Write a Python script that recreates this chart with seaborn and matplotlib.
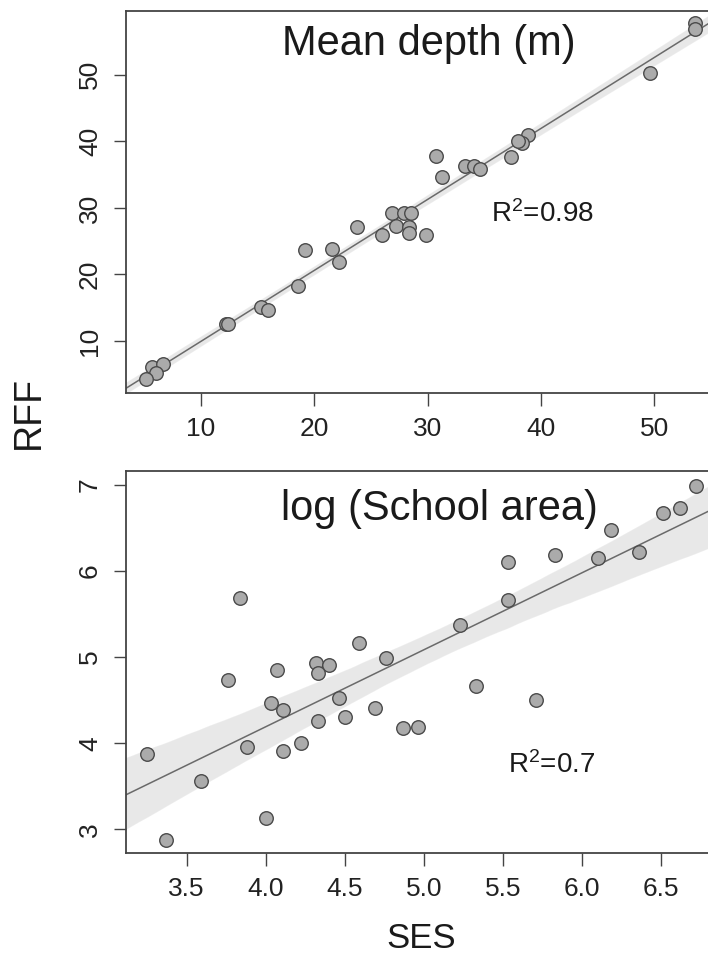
import matplotlib
matplotlib.use("Agg")
import matplotlib.pyplot as plt
import numpy as np
import pandas as pd
import seaborn as sns

# ---- data: Mean depth panel ----
depth_ses = [53.6, 53.6, 49.6, 38.9, 38.3, 38.0, 37.4, 30.75, 31.3, 33.3, 34.1, 34.6,
             26.9, 27.9, 28.5, 27.2, 28.4, 28.4, 26.0, 29.9, 23.8, 19.2, 21.6, 22.2,
             18.6, 15.3, 15.9, 12.2, 12.4, 5.67, 6.67, 6.0, 5.17]
depth_rff = [57.8, 56.9, 50.3, 41.0, 39.8, 40.0, 37.7, 37.8, 34.7, 36.3, 36.3, 35.8,
             29.2, 29.3, 29.2, 27.3, 27.2, 26.2, 26.0, 25.9, 27.1, 23.6, 23.9, 21.8,
             18.3, 15.1, 14.6, 12.5, 12.5, 6.1, 6.5, 5.2, 4.25]

# ---- data: log (School area) panel ----
area_ses = [6.72, 6.51, 6.62, 6.18, 5.83, 6.10, 6.36, 5.53, 5.53, 5.23, 3.84, 4.59,
            4.76, 4.32, 4.40, 4.33, 4.07, 3.76, 5.33, 5.71, 4.46, 4.03, 4.11, 4.69,
            4.50, 4.33, 4.87, 4.96, 3.88, 4.11, 4.22, 3.25, 3.59, 4.00, 3.37]
area_rff = [6.99, 6.68, 6.73, 6.48, 6.19, 6.15, 6.22, 6.10, 5.67, 5.37, 5.69, 5.17,
            4.99, 4.93, 4.91, 4.82, 4.85, 4.73, 4.66, 4.50, 4.52, 4.47, 4.39, 4.41,
            4.30, 4.26, 4.18, 4.19, 3.96, 3.91, 4.00, 3.87, 3.56, 3.13, 2.88]

titles = ["Mean depth (m)", "log (School area)"]
r2_labels = [r"R$^{2}$=0.98", r"R$^{2}$=0.7"]
top_xticks = [10, 20, 30, 40, 50]
top_yticks = [10, 20, 30, 40, 50]
bot_xticks = [3.5, 4.0, 4.5, 5.0, 5.5, 6.0, 6.5]
bot_yticks = [3, 4, 5, 6, 7]

sns.set_style("white")
plt.rcParams["font.family"] = ["Liberation Sans", "DejaVu Sans"]
plt.rcParams["mathtext.fontset"] = "custom"
plt.rcParams["mathtext.rm"] = "Liberation Sans"
plt.rcParams["mathtext.it"] = "Liberation Sans"
plt.rcParams["mathtext.default"] = "regular"

W, H = 708, 958
fig = plt.figure(figsize=(W / 100, H / 100), dpi=100)

def frac_axes(left_px, top_px, right_px, bottom_px):
    return fig.add_axes([left_px / W, 1 - bottom_px / H,
                         (right_px - left_px) / W, (bottom_px - top_px) / H])

ax1 = frac_axes(125.6, 11, 712, 393)
ax2 = frac_axes(125.6, 471, 712, 853)

df1 = pd.DataFrame({"SES": depth_ses, "RFF": depth_rff})
df2 = pd.DataFrame({"SES": area_ses, "RFF": area_rff})

panels = [
    (ax1, df1, (3.35, 55.1), (2.18, 59.6), top_xticks, top_yticks, [str(t) for t in top_xticks],
     [str(t) for t in top_yticks], (0.517, 0.885), (0.623, 0.448)),
    (ax2, df2, (3.114, 6.82), (2.725, 7.163), bot_xticks, bot_yticks, [f"{t:.1f}" for t in bot_xticks],
     [str(t) for t in bot_yticks], (0.536, 0.872), (0.652, 0.209)),
]

for i, (ax, df, xl, yl, xt, yt, xtl, ytl, tpos, rpos) in enumerate(panels):
    ax.set_xlim(*xl)
    ax.set_ylim(*yl)
    sns.regplot(data=df, x="SES", y="RFF", ax=ax, truncate=False, seed=0, n_boot=2000,
                color="#6e6e6e",
                scatter_kws=dict(s=95, facecolor="#ababab", edgecolor="#4a4a4a",
                                 linewidths=1.0, alpha=1, zorder=3),
                line_kws=dict(color="#6a6a6a", lw=1.1, zorder=2))
    ax.set_xlim(*xl)
    ax.set_ylim(*yl)
    ax.set_xlabel("")
    ax.set_ylabel("")
    ax.set_xticks(xt)
    ax.set_xticklabels(xtl)
    ax.set_yticks(yt)
    ax.set_yticklabels(ytl, rotation=90, va="center")
    ax.tick_params(axis="both", direction="out", length=9, width=1.0, color="#444444",
                   labelsize=19, labelcolor="#222222", pad=8, bottom=True, left=True)
    for sp in ax.spines.values():
        sp.set_color("#444444")
        sp.set_linewidth(1.3)
    ax.text(tpos[0], tpos[1], titles[i], transform=ax.transAxes, ha="center",
            va="baseline", fontsize=30, color="#1a1a1a")
    ax.text(rpos[0], rpos[1], r2_labels[i], transform=ax.transAxes, ha="left",
            va="baseline", fontsize=20, color="#1a1a1a")

fig.text(29 / W, 1 - 412 / H, "RFF", rotation=90, ha="center", va="center",
         fontsize=27, color="#1a1a1a")
fig.text(421 / W, 1 - 938 / H, "SES", ha="center", va="center",
         fontsize=25, color="#1a1a1a")

fig.savefig("out.png", dpi=100)
